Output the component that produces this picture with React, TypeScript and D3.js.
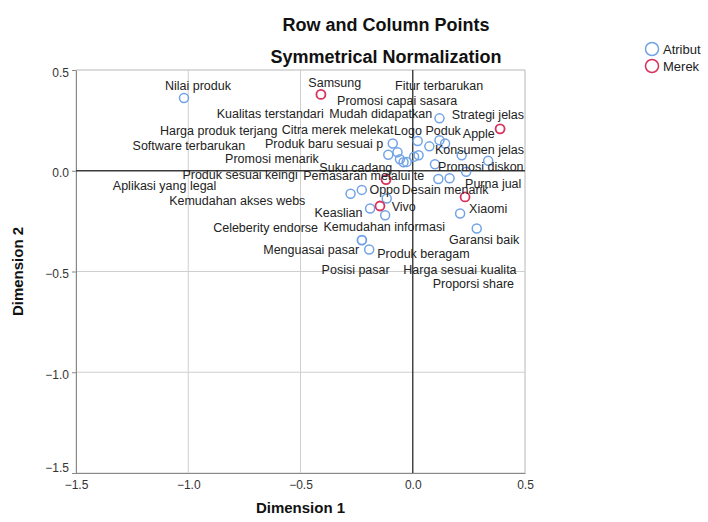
import { useEffect, useRef } from "react";
import * as d3 from "d3";

// Atribut (row points)
const atributNames = [
  "Nilai produk", "Strategi jelas", "Produk baru sesuai p", "Logo Poduk", "Promosi menarik",
  "Software terbarukan", "Harga produk terjang", "Suku cadang", "Produk sesuai keingi", "Citra merek melekat",
  "Kualitas terstandari", "Mudah didapatkan", "Fitur terbarukan", "Konsumen jelas", "Promosi capai sasara",
  "Promosi diskon", "Harga sesuai kualita", "Purna jual", "Desain menarik", "Pemasaran melalui te",
  "Aplikasi yang legal", "Kemudahan akses webs", "Produk beragam", "Keaslian", "Kemudahan informasi",
  "Celeberity endorse", "Menguasai pasar", "Garansi baik", "Proporsi share", "Posisi pasar",
];
const atributX = [
  -1.019, 0.119, -0.089, 0.022, -0.068,
  -0.109, -0.057, -0.041, -0.027, 0.006,
  0.026, 0.074, 0.119, 0.144, 0.218,
  0.336, 0.099, 0.238, 0.114, 0.164,
  -0.277, -0.227, -0.116, -0.190, -0.123,
  -0.227, -0.194, 0.211, 0.285, -0.226,
];
const atributY = [
  0.361, 0.260, 0.135, 0.148, 0.092,
  0.079, 0.057, 0.042, 0.044, 0.070,
  0.077, 0.121, 0.151, 0.135, 0.077,
  0.050, 0.032, -0.005, -0.041, -0.037,
  -0.114, -0.095, -0.138, -0.187, -0.221,
  -0.345, -0.391, -0.212, -0.287, -0.344,
];
// label anchors (start x, baseline y) in data units, as placed in the picture
const atributLabelX = [
  -1.104, 0.174, -0.658, -0.083, -0.836,
  -1.248, -1.126, -0.416, -1.026, -0.584,
  -0.873, -0.372, -0.079, 0.099, -0.337,
  0.113, -0.042, 0.233, -0.049, -0.488,
  -1.336, -1.085, -0.158, -0.438, -0.398,
  -0.889, -0.666, 0.162, 0.089, -0.406,
];
const atributLabelY = [
  0.399, 0.255, 0.115, 0.177, 0.036,
  0.105, 0.176, -0.004, -0.040, 0.181,
  0.263, 0.263, 0.399, 0.082, 0.325,
  -0.001, -0.511, -0.087, -0.117, -0.047,
  -0.097, -0.170, -0.434, -0.229, -0.298,
  -0.306, -0.414, -0.364, -0.583, -0.511,
];

// Merek (column points)
const merekNames = ["Samsung", "Apple", "Oppo", "Vivo", "Xiaomi"];
const merekX = [-0.409, 0.389, -0.119, -0.146, 0.233];
const merekY = [0.379, 0.208, -0.044, -0.175, -0.130];
const merekLabelX = [-0.465, 0.223, -0.193, -0.094, 0.251];
const merekLabelY = [0.414, 0.161, -0.117, -0.199, -0.211];

const ticks = [-1.5, -1.0, -0.5, 0.0, 0.5];
const legendItems = ["Atribut", "Merek"];

const BLUE = "#72a3e6";
const RED = "#d9315b";
const FONT = "'Liberation Sans', Arial, sans-serif";

export default function App() {
  const ref = useRef<SVGSVGElement>(null);

  useEffect(() => {
    if (!ref.current) return;
    const svg = d3.select(ref.current);
    svg.selectAll("*").remove();
    const W = 708, H = 522;
    const m = { l: 76, r: 525, t: 70, b: 473 };

    const x = d3.scaleLinear().domain([-1.5, 0.5]).range([m.l, m.r]);
    const y = d3.scaleLinear().domain([-1.5, 0.5]).range([m.b, m.t]);

    svg.append("rect").attr("width", W).attr("height", H).attr("fill", "#fff");

    // titles
    svg.append("text").attr("x", 386).attr("y", 31).attr("text-anchor", "middle")
      .attr("font-family", FONT).attr("font-weight", "bold").attr("font-size", 18).attr("fill", "#111")
      .text("Row and Column Points");
    svg.append("text").attr("x", 386).attr("y", 63).attr("text-anchor", "middle")
      .attr("font-family", FONT).attr("font-weight", "bold").attr("font-size", 18).attr("fill", "#111")
      .text("Symmetrical Normalization");

    // grid
    const grid = svg.append("g");
    ticks.filter((t) => t !== 0).forEach((t) => {
      grid.append("line").attr("x1", x(t)).attr("x2", x(t)).attr("y1", m.t).attr("y2", m.b)
        .attr("stroke", "#cfcfcf");
      grid.append("line").attr("x1", m.l).attr("x2", m.r).attr("y1", y(t)).attr("y2", y(t))
        .attr("stroke", "#cfcfcf");
    });

    // axes
    svg.append("g")
      .attr("transform", `translate(0,${m.b})`)
      .call(d3.axisBottom(x).tickValues(ticks).tickSize(0).tickPadding(7).tickFormat(d3.format(".1f")))
      .call((g) => g.selectAll("text").attr("font-family", FONT).attr("font-size", 12).attr("fill", "#333"))
      .call((g) => g.select(".domain").attr("stroke", "#888"));

    svg.append("g")
      .attr("transform", `translate(${m.l},0)`)
      .call(d3.axisLeft(y).tickValues(ticks).tickSize(4).tickPadding(3).tickFormat(d3.format(".1f")))
      .call((g) => g.selectAll("text").attr("font-family", FONT).attr("font-size", 12).attr("fill", "#333")
        .attr("dy", (d) => (d === -1.5 ? "-0.1em" : "0.5em")))
      .call((g) => g.selectAll("line").attr("stroke", "#888"))
      .call((g) => g.select(".domain").attr("stroke", "#888"));

    // frame (top, right)
    svg.append("path")
      .attr("d", `M${m.l},${m.t}H${m.r}V${m.b}`)
      .attr("fill", "none").attr("stroke", "#cfcfcf");

    // reference lines at 0
    svg.append("line").attr("x1", x(0)).attr("x2", x(0)).attr("y1", m.t).attr("y2", m.b)
      .attr("stroke", "#3a3a3a").attr("stroke-width", 1.4);
    svg.append("line").attr("x1", m.l).attr("x2", m.r).attr("y1", y(0)).attr("y2", y(0))
      .attr("stroke", "#3a3a3a").attr("stroke-width", 1.4);

    // axis titles
    svg.append("text").attr("x", (m.l + m.r) / 2).attr("y", 513).attr("text-anchor", "middle")
      .attr("font-family", FONT).attr("font-weight", "bold").attr("font-size", 15).attr("fill", "#111")
      .text("Dimension 1");
    svg.append("text").attr("transform", `translate(23,${(m.t + m.b) / 2}) rotate(-90)`)
      .attr("text-anchor", "middle")
      .attr("font-family", FONT).attr("font-weight", "bold").attr("font-size", 15).attr("fill", "#111")
      .text("Dimension 2");

    // points
    const pts = svg.append("g");
    atributNames.forEach((_, i) => {
      pts.append("circle").attr("cx", x(atributX[i])).attr("cy", y(atributY[i])).attr("r", 4.5)
        .attr("fill", "none").attr("stroke", BLUE).attr("stroke-width", 1.5);
    });
    merekNames.forEach((_, i) => {
      pts.append("circle").attr("cx", x(merekX[i])).attr("cy", y(merekY[i])).attr("r", 4.5)
        .attr("fill", "none").attr("stroke", RED).attr("stroke-width", 1.8);
    });

    // labels
    const lab = svg.append("g").attr("font-family", FONT).attr("font-size", 12.5).attr("fill", "#222");
    atributNames.forEach((n, i) => {
      lab.append("text").attr("x", x(atributLabelX[i])).attr("y", y(atributLabelY[i])).text(n);
    });
    merekNames.forEach((n, i) => {
      lab.append("text").attr("x", x(merekLabelX[i])).attr("y", y(merekLabelY[i])).text(n);
    });

    // legend
    const lg = svg.append("g");
    legendItems.forEach((n, i) => {
      lg.append("circle").attr("cx", 652).attr("cy", 49 + i * 17).attr("r", 6.5)
        .attr("fill", "none").attr("stroke", i === 0 ? BLUE : RED).attr("stroke-width", 1.5);
      lg.append("text").attr("x", 663).attr("y", 54 + i * 17)
        .attr("font-family", FONT).attr("font-size", 13).attr("fill", "#222").text(n);
    });
  }, []);

  return (
    <svg ref={ref} width={708} height={522}
      style={{ position: "absolute", left: 0, top: 0, display: "block" }} />
  );
}
